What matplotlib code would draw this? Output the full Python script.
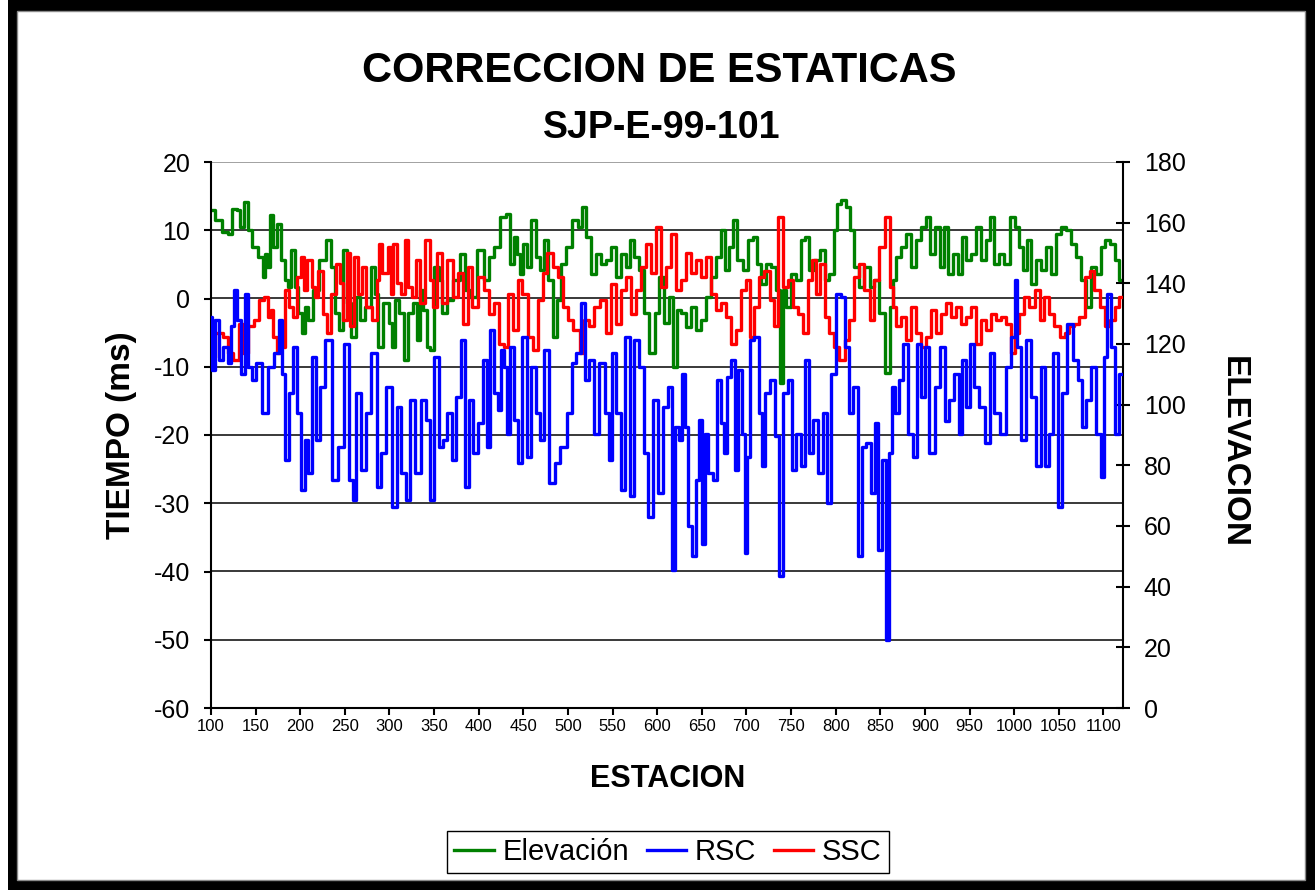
import matplotlib
matplotlib.use("Agg")
import matplotlib.pyplot as plt
import matplotlib.transforms as mtransforms
from matplotlib.patches import Rectangle

plt.rcParams['font.family'] = ['Liberation Sans', 'DejaVu Sans']
plt.rcParams['axes.unicode_minus'] = False

# Elevacion (eje derecho)
elev_st = [100, 108, 116, 121, 127, 131, 133, 140, 142, 149, 157, 159, 162, 164, 168, 172, 177, 181, 185, 187,
           192, 196, 200, 204, 207, 211, 217, 224, 233, 237, 241, 245, 250, 254, 260, 265, 269, 276, 282, 286,
           289, 297, 301, 304, 308, 314, 319, 323, 329, 332, 336, 340, 344, 347, 353, 357, 360, 368, 374, 383,
           387, 394, 402, 409, 415, 420, 428, 433, 437, 441, 445, 448, 452, 456, 461, 467, 471, 476, 480, 486,
           489, 495, 501, 508, 514, 518, 523, 529, 534, 540, 545, 551, 557, 562, 568, 572, 577, 583, 588, 594,
           600, 605, 611, 616, 620, 624, 630, 635, 641, 646, 652, 658, 663, 669, 673, 678, 682, 687, 693, 699,
           704, 710, 714, 719, 725, 730, 736, 739, 742, 747, 753, 758, 764, 768, 773, 779, 785, 790, 796, 800,
           803, 809, 815, 818, 824, 829, 835, 841, 846, 852, 858, 863, 865, 871, 876, 882, 887, 893, 899, 904,
           908, 914, 919, 923, 929, 934, 940, 943, 949, 955, 960, 966, 971, 975, 981, 986, 992, 998, 1003, 1007,
           1013, 1016, 1022, 1027, 1033, 1039, 1044, 1050, 1056, 1061, 1067, 1072, 1078, 1084, 1089, 1095, 1100,
           1104, 1110, 1115, 1120]
elev_val = [164.1, 160.8, 157.0, 156.4, 164.6, 164.1, 158.6, 166.8, 157.5, 152.0, 148.7, 142.1, 149.8, 145.4,
            162.4, 152.0, 159.7, 147.6, 141.0, 138.8, 150.9, 138.8, 130.1, 123.5, 132.3, 127.9, 137.7, 147.6,
            154.2, 145.4, 130.1, 124.6, 150.9, 133.4, 122.4, 135.5, 127.9, 132.3, 145.4, 136.6, 119.1, 133.4,
            126.8, 119.1, 134.5, 130.1, 114.7, 130.1, 133.4, 121.3, 137.7, 131.2, 119.1, 118.0, 145.4, 141.0,
            130.1, 134.5, 141.0, 149.8, 137.7, 135.5, 150.9, 141.0, 148.7, 152.0, 161.9, 163.0, 146.5, 155.3,
            149.8, 143.2, 153.1, 145.4, 160.8, 148.7, 144.3, 154.2, 141.0, 122.4, 134.5, 146.5, 152.0, 160.8,
            158.6, 165.2, 155.3, 143.2, 149.8, 146.5, 147.6, 152.0, 142.1, 149.8, 145.4, 154.2, 148.7, 144.3,
            130.1, 116.9, 130.1, 142.1, 126.8, 135.5, 112.5, 131.2, 130.1, 125.7, 132.3, 124.6, 127.9, 135.5,
            142.1, 148.7, 157.5, 144.3, 152.0, 160.8, 147.6, 144.3, 154.2, 155.3, 146.5, 139.9, 146.5, 145.4,
            137.7, 107.0, 137.7, 132.3, 143.2, 141.0, 154.2, 155.3, 144.3, 147.6, 150.9, 141.0, 143.2, 157.5,
            166.3, 167.4, 165.2, 157.5, 145.4, 138.8, 145.4, 138.8, 141.0, 130.1, 110.3, 132.3, 141.0, 148.7,
            152.0, 156.4, 145.4, 154.2, 158.6, 161.9, 149.8, 158.6, 145.4, 158.6, 143.2, 149.8, 143.2, 155.3,
            147.6, 149.8, 158.6, 147.6, 154.2, 161.9, 146.5, 149.8, 146.5, 161.9, 158.6, 152.0, 144.3, 154.2,
            139.9, 147.6, 144.3, 152.0, 143.2, 156.4, 158.6, 157.5, 153.1, 148.7, 141.0, 132.3, 145.4, 143.2,
            152.0, 154.2, 153.1, 147.6, 141.0]

# RSC (ms)
rsc_st = [100, 103, 106, 112, 116, 121, 123, 128, 131, 136, 140, 144, 147, 153, 161, 166, 175, 178, 181, 185,
          190, 194, 198, 204, 207, 211, 215, 220, 224, 232, 239, 245, 252, 258, 261, 265, 271, 276, 283, 288,
          293, 299, 306, 310, 316, 321, 325, 332, 338, 344, 347, 353, 359, 362, 368, 372, 377, 383, 387, 392,
          396, 402, 407, 411, 415, 420, 424, 426, 430, 433, 437, 443, 446, 452, 456, 461, 467, 471, 476, 482,
          488, 495, 502, 506, 512, 517, 521, 527, 532, 538, 544, 547, 551, 557, 562, 566, 572, 577, 583, 588,
          592, 598, 603, 609, 615, 618, 622, 626, 630, 633, 637, 641, 645, 648, 652, 656, 659, 665, 669, 673,
          676, 680, 686, 689, 693, 697, 699, 702, 706, 712, 716, 719, 723, 729, 734, 739, 744, 749, 753, 758,
          764, 768, 773, 777, 783, 788, 792, 798, 803, 809, 813, 816, 822, 828, 831, 837, 843, 846, 850, 854,
          858, 861, 865, 869, 872, 878, 884, 889, 893, 899, 902, 908, 914, 919, 925, 930, 936, 940, 943, 949,
          953, 958, 964, 970, 975, 981, 988, 994, 1000, 1002, 1005, 1011, 1016, 1022, 1027, 1033, 1037, 1042,
          1046, 1052, 1056, 1063, 1069, 1074, 1078, 1084, 1089, 1095, 1099, 1102, 1106, 1110, 1115, 1120]
rsc_val = [-2.7, -10.5, -3.2, -9.0, -7.1, -9.5, -4.1, 1.2, -3.2, -11.0, 0.7, -10.0, -12.0, -9.5, -16.8, -10.0,
           -8.0, -3.2, -11.0, -23.7, -13.9, -7.1, -16.8, -28.0, -20.7, -25.6, -8.5, -20.7, -12.9, -6.1, -26.6,
           -21.7, -6.6, -26.6, -29.5, -13.9, -25.1, -16.8, -8.0, -27.6, -22.7, -12.9, -30.5, -15.9, -25.6, -29.5,
           -14.9, -25.6, -14.9, -17.8, -29.5, -8.5, -21.7, -20.7, -16.8, -23.7, -14.4, -6.1, -27.6, -14.9, -22.7,
           -18.3, -9.0, -21.7, -4.6, -13.9, -16.3, -7.6, -10.0, -19.8, -7.1, -17.8, -24.1, -5.6, -23.2, -10.0,
           -16.8, -20.7, -7.6, -27.1, -24.1, -21.7, -16.8, -9.5, -8.0, -0.7, -12.0, -9.0, -19.8, -9.5, -16.8,
           -23.7, -8.0, -16.8, -28.0, -5.6, -29.0, -6.1, -10.0, -22.7, -32.0, -14.9, -28.5, -15.9, -12.9, -39.8,
           -18.8, -20.7, -11.0, -18.8, -33.4, -37.8, -26.6, -17.8, -35.9, -19.8, -25.6, -26.6, -12.0, -18.3,
           -22.7, -11.5, -9.0, -25.1, -10.5, -19.8, -37.3, -23.2, -6.1, -5.6, -16.8, -24.6, -13.9, -12.0, -20.2,
           -40.7, -13.9, -12.0, -25.1, -19.8, -24.6, -9.0, -22.7, -17.8, -25.6, -16.8, -30.0, -11.0, 0.7, 0.2,
           -7.1, -16.8, -12.9, -37.8, -21.7, -21.2, -28.5, -18.3, -36.9, -23.7, -50.0, -22.7, -12.9, -16.8,
           -12.0, -6.6, -19.8, -23.2, -6.6, -14.4, -7.1, -22.7, -12.9, -7.1, -17.9, -14.9, -11.0, -19.8, -9.0,
           -15.9, -6.6, -12.9, -15.9, -21.2, -8.0, -16.8, -19.8, -10.0, -5.6, 2.7, -7.1, -20.7, -6.1, -14.4,
           -24.6, -10.0, -24.6, -19.8, -8.0, -30.5, -13.9, -3.7, -9.0, -12.0, -18.8, -14.9, -10.0, -19.8, -26.1,
           -8.5, 0.7, -7.1, -19.8, -11.0]

# SSC (ms)
ssc_st = [100, 110, 116, 121, 129, 134, 138, 146, 151, 157, 161, 166, 168, 172, 175, 179, 181, 185, 190, 194,
          198, 204, 205, 211, 215, 218, 222, 228, 232, 237, 243, 246, 250, 254, 258, 263, 267, 271, 276, 284,
          288, 289, 295, 301, 302, 306, 310, 316, 319, 323, 327, 332, 336, 344, 347, 351, 355, 362, 368, 374,
          379, 385, 390, 396, 402, 409, 415, 420, 426, 431, 435, 441, 446, 452, 458, 463, 469, 474, 480, 486,
          491, 497, 502, 510, 516, 521, 527, 532, 540, 545, 551, 557, 562, 568, 573, 579, 585, 590, 596, 602,
          607, 613, 618, 624, 630, 635, 641, 646, 652, 658, 663, 669, 674, 680, 686, 691, 697, 701, 706, 712,
          717, 723, 729, 732, 739, 744, 749, 755, 760, 766, 772, 775, 781, 785, 790, 796, 801, 807, 813, 818,
          824, 829, 835, 841, 846, 852, 858, 863, 865, 871, 876, 882, 887, 893, 899, 904, 910, 915, 921, 927,
          932, 938, 943, 949, 955, 960, 966, 971, 977, 983, 988, 994, 998, 1003, 1009, 1014, 1020, 1026, 1031,
          1037, 1042, 1048, 1054, 1059, 1065, 1070, 1076, 1082, 1087, 1093, 1099, 1104, 1110, 1115, 1120]
ssc_val = [-8.5, -5.1, -5.6, -8.0, -9.0, -3.7, -8.0, -4.1, -3.2, -0.2, 0.2, -2.7, -1.7, -5.6, -8.0, -4.1, -7.1,
           1.2, -1.2, -2.7, 3.2, 6.1, 1.2, 5.6, 1.7, 0.2, 4.1, -2.2, -5.1, 0.7, 5.1, 2.2, -3.2, 6.6, -4.1, 6.1,
           0.7, 4.6, -1.2, -3.2, 2.7, 8.0, 3.7, 7.6, 0.7, 8.0, 2.2, 0.7, 8.5, 1.7, 0.2, 5.6, -0.7, 8.5, 2.7,
           -1.2, 6.6, -0.7, 5.6, 0.2, 3.7, -3.7, 4.6, -1.2, 3.2, 1.2, -2.2, -0.7, -6.6, -7.1, 0.7, -4.6, 2.7,
           0.7, -5.6, -7.6, -0.2, 3.7, 6.6, 4.6, 3.2, -1.2, -3.2, -4.6, -8.0, -3.2, -4.1, -1.2, -0.2, -5.1, 2.1,
           -3.7, 1.2, 3.2, -2.2, 1.2, 4.6, 8.0, 3.7, 10.5, 1.7, 4.6, 9.5, 1.2, 2.7, 6.6, 3.7, 5.6, 3.2, 6.1,
           0.7, -1.7, -0.7, -2.7, -6.6, -4.6, 1.2, 2.7, -5.6, -1.2, 3.2, 4.1, -0.2, -4.1, 12.0, 1.7, 2.7, -1.2,
           -2.2, -5.1, 2.7, 5.6, 0.7, 5.1, -2.7, -5.1, -7.1, -9.0, -6.1, -3.2, 3.2, 5.1, 1.2, -3.2, 2.7, 7.6,
           12.0, 1.7, -1.2, -4.1, -2.7, -6.1, -1.2, -5.1, -7.1, -5.6, -1.7, -5.1, -2.2, -0.7, -2.7, -1.2, -3.7,
           -2.7, -1.2, -6.6, -3.2, -4.6, -2.2, -3.2, -2.7, -3.7, -8.0, -5.1, -2.2, 0.2, -1.2, 1.2, -3.2, 0.2,
           -2.2, -4.1, -5.6, -5.1, -4.1, -3.7, -2.7, 3.2, 4.1, 1.2, -1.2, -4.1, -3.2, -1.2, 0.2]

time_ticks = list(range(-60, 21, 10))
elev_ticks = list(range(0, 181, 20))
station_ticks = list(range(100, 1101, 50))

GREEN = '#008000'
BLUE = '#0000FF'
RED = '#FF0000'
W, H = 1315, 890

fig = plt.figure(figsize=(W / 100, H / 100), dpi=100)
fig.patch.set_facecolor('white')

# marco negro y fondo blanco del grafico
fig.add_artist(Rectangle((8 / W, 0), 1 - 8 / W, 1, transform=fig.transFigure,
                         facecolor='black', edgecolor='none', zorder=-5))
fig.add_artist(Rectangle((17 / W, 10 / H), (1305 - 17) / W, (879 - 10) / H, transform=fig.transFigure,
                         facecolor='white', edgecolor='#8a8a8a', linewidth=1.0, zorder=-4))

ax = fig.add_axes([211 / W, (H - 708) / H, (1123 - 211) / W, (708 - 162) / H])
ax2 = ax.twinx()
ax.set_zorder(2)
ax2.set_zorder(1)
ax.patch.set_visible(False)
ax2.patch.set_visible(False)

# lineas de division del eje principal, dibujadas detras de las series
grid_trans = mtransforms.blended_transform_factory(ax2.transAxes, ax.transData)
for t in time_ticks[1:]:
    col = '#9a9a9a' if t == time_ticks[-1] else '#2a2a2a'
    ax2.plot([0, 1], [t, t], transform=grid_trans, color=col, linewidth=1.3, zorder=0.5)

l_elev, = ax2.plot(elev_st, elev_val, color=GREEN, linewidth=2.4, drawstyle='steps-mid', zorder=2)
l_ssc, = ax.plot(ssc_st, ssc_val, color=RED, linewidth=2.4, drawstyle='steps-mid', zorder=2)
l_rsc, = ax.plot(rsc_st, rsc_val, color=BLUE, linewidth=2.4, drawstyle='steps-mid', zorder=3)

ax.set_xlim(100, 1122)
ax.set_ylim(-60, 20)
ax2.set_ylim(0, 180)

ax.set_yticks(time_ticks)
ax.set_xticks(station_ticks)
ax2.set_yticks(elev_ticks)

for s in ['top', 'right']:
    ax.spines[s].set_visible(False)
for s in ['top', 'left', 'bottom']:
    ax2.spines[s].set_visible(False)
ax.spines['left'].set_linewidth(1.5)
ax.spines['bottom'].set_linewidth(1.5)
ax2.spines['right'].set_linewidth(1.5)

ax.tick_params(axis='y', direction='out', length=5, width=1.5, pad=10, labelsize=18)
ax.tick_params(axis='x', direction='out', length=5, width=1.5, pad=3, labelsize=12)
ax2.tick_params(axis='y', direction='inout', length=10, width=1.5, pad=10, labelsize=18)

fig.text(659 / W, 1 - 82 / H, 'CORRECCION DE ESTATICAS', ha='center', va='baseline',
         fontsize=30, fontweight='bold')
fig.text(662 / W, 1 - 138 / H, 'SJP-E-99-101', ha='center', va='baseline',
         fontsize=27, fontweight='bold')
fig.text(668 / W, 1 - 787 / H, 'ESTACION', ha='center', va='baseline',
         fontsize=22, fontweight='bold')
fig.text(122 / W, 1 - 435 / H, 'TIEMPO (ms)', ha='center', va='center', rotation=90,
         fontsize=24, fontweight='bold')
fig.text(1233 / W, 1 - 452 / H, 'ELEVACION', ha='center', va='center', rotation=-90,
         fontsize=24, fontweight='bold')

leg = fig.legend([l_elev, l_rsc, l_ssc], ['Elevación', 'RSC', 'SSC'], loc='center',
                 bbox_to_anchor=(668 / W, 1 - 852 / H), ncol=3, fontsize=21, frameon=True,
                 fancybox=False, edgecolor='black', framealpha=1, handlelength=1.35,
                 handletextpad=0.3, columnspacing=0.6, borderpad=0.25)
leg.get_frame().set_linewidth(1.0)

fig.savefig('out.png', dpi=100)
